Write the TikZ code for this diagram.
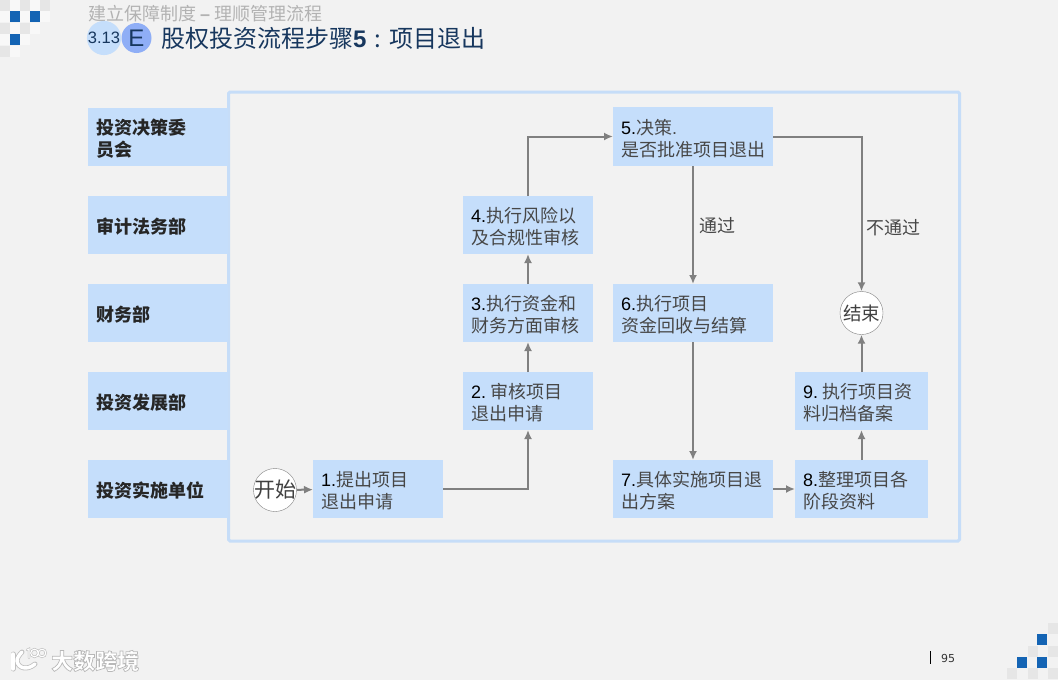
\documentclass[tikz,border=0pt]{standalone}
\usepackage{fontspec}
\setmainfont{Noto Sans CJK SC}
\newfontfamily\lat{Liberation Sans}
\newfontfamily\pagefont{DejaVu Sans}
\definecolor{pagebg}{HTML}{F2F2F2}
\definecolor{boxblue}{HTML}{C5DEFB}
\definecolor{framblue}{HTML}{C6DDF8}
\definecolor{flowgray}{HTML}{808080}
\definecolor{navy}{HTML}{17375E}
\definecolor{letterblue}{HTML}{8FAEF6}
\definecolor{squareblue}{HTML}{1464B4}
\definecolor{squaregray}{HTML}{E6E6E6}
\definecolor{squarepale}{HTML}{F8F8F8}
\usetikzlibrary{arrows.meta, positioning}

\begin{document}
\begin{tikzpicture}[
    x=1pt, y=-1pt,
    % Styles
    dept node/.style={rectangle, fill=boxblue, text=black!85, align=left, anchor=north west, font=\fontsize{18}{22}\selectfont\bfseries, minimum height=58pt, inner ysep=0pt, inner xsep=8pt, text width=124pt, outer sep=0pt, execute at begin node={\rule{0pt}{19pt}}},
    step node/.style={rectangle, fill=boxblue, text=black!72, align=left, anchor=north west, font=\fontsize{18}{22}\selectfont, minimum height=58pt, inner ysep=0pt, inner xsep=8pt, outer sep=0pt, execute at begin node={\rule{0pt}{19pt}}},
    term node/.style={circle, draw=flowgray, fill=white, inner sep=0pt, minimum size=43pt, text=black!75},
    flow arrow/.style={-{Latex[length=9pt,width=8pt]}, draw=flowgray, line width=2pt},
    flow label/.style={text=black!72, font=\fontsize{18}{20}\selectfont, inner sep=1pt, yshift=-1pt},
    blue square/.style={fill=squareblue},
    gray square/.style={fill=squaregray},
    pale square/.style={fill=squarepale},
    logo line/.style={line cap=round, draw=white}
]
\useasboundingbox (0,0) rectangle (1058,680);
\fill[pagebg] (0,0) rectangle (1058,680);

% Corner squares
\foreach \x/\y in {10/0,30/0,0/11,20/11,40/11,10/23,30/23,0/34,20/34,10/46}
    \fill[pale square] (\x,\y) rectangle ++(10,11);
\foreach \x/\y in {0/0,20/0,40/0,0/23,20/23,0/46}
    \fill[gray square] (\x,\y) rectangle ++(10,11);
\foreach \x/\y in {10/11,30/11,10/34}
    \fill[blue square] (\x,\y) rectangle ++(10,11);
\foreach \x/\y in {1048/623,1048/646,1028/646,1007/668,1028/668,1048/668}
    \fill[gray square] (\x,\y) rectangle ++(10,11);
\foreach \x/\y in {1037/634,1017/657,1037/657}
    \fill[blue square] (\x,\y) rectangle ++(10,11);

% Title
\node[anchor=west, text=black!30, font=\fontsize{18}{18}\selectfont, inner sep=0pt] (topic) at (88,14) {建立保障制度 {\lat\textbf{–}} 理顺管理流程};
\node[circle, fill=boxblue, inner sep=0pt, minimum size=31pt, text=navy, font=\lat\fontsize{16.5}{16.5}\selectfont] (secno) at (104,38) {3.13};
\node[circle, fill=letterblue, inner sep=0pt, minimum size=30pt, text=navy, font=\lat\fontsize{24}{24}\selectfont] (secletter) at (136.5,38) {E};
\node[anchor=west, text=navy, font=\fontsize{24}{24}\selectfont, inner sep=0pt] (title) at (161,38) {股权投资流程步骤{\lat\bfseries 5}\makebox[23pt]{:}项目退出};

% Frame
\node[rectangle, draw=framblue, line width=3pt, rounded corners=1.5pt, anchor=north west, minimum width=731pt, minimum height=449pt, inner sep=0pt, outer sep=0pt] (frame) at (228.5,92) {};

% Departments
\node[dept node] (committee) at (88,108) {投资决策委\\员会};
\node[dept node] (legal) at (88,196) {审计法务部};
\node[dept node] (finance) at (88,284) {财务部};
\node[dept node] (develop) at (88,372) {投资发展部};
\node[dept node] (unit) at (88,460) {投资实施单位};

% Steps
\node[term node, inner sep=-3pt, font=\fontsize{21}{21}\selectfont] (start) at (275,490) {开始};
\node[step node, text width=114pt] (s1) at (313,460) {{\lat\color{black} 1.}提出项目\\退出申请};
\node[step node, text width=114pt] (s2) at (463,372) {{\lat\color{black} 2.}\hspace{4pt}审核项目\\退出申请};
\node[step node, text width=114pt] (s3) at (463,284) {{\lat\color{black} 3.}执行资金和\\财务方面审核};
\node[step node, text width=114pt] (s4) at (463,196) {{\lat\color{black} 4.}执行风险以\\及合规性审核};
\node[step node, text width=144pt, minimum height=59pt] (s5) at (613,107) {{\lat\color{black} 5.}决策{\lat .}\\是否批准项目退出};
\node[step node, text width=144pt] (s6) at (613,284) {{\lat\color{black} 6.}执行项目\\资金回收与结算};
\node[step node, text width=144pt] (s7) at (613,460) {{\lat\color{black} 7.}具体实施项目退\\出方案};
\node[step node, text width=117pt] (s8) at (795,460) {{\lat\color{black} 8.}整理项目各\\阶段资料};
\node[step node, text width=117pt] (s9) at (795,372) {{\lat\color{black} 9.}\hspace{4pt}执行项目资\\料归档备案};
\node[term node, font=\fontsize{18.5}{18.5}\selectfont] (stop) at (861.5,313) {结束};

% Connections
\draw[flow arrow] (start) -- (s1);
\draw[flow arrow] (s1.east) -| (s2.south);
\draw[flow arrow] (s2) -- (s3);
\draw[flow arrow] (s3) -- (s4);
\draw[flow arrow] (s4.north) |- (s5.west);
\draw[flow arrow] (s5) -- node[flow label, right=4pt] {通过} (s6);
\draw[flow arrow] (s6) -- (s7);
\draw[flow arrow] (s7) -- (s8);
\draw[flow arrow] (s8) -- (s9);
\draw[flow arrow] (s9) -- (stop);
\draw[flow arrow] (s5.east) -| node[flow label, pos=0.79, right=3pt] {不通过} (stop.north);

% Footer
\node[anchor=west, text=black!80, font=\pagefont\fontsize{11}{11}\selectfont, inner sep=0pt] (page) at (941,658) {95};
\draw[black, line width=1pt] (930,651) -- (930,664);
\node[anchor=west, text=white, font=\fontsize{22}{22}\selectfont\bfseries, inner sep=0pt] (brand) at (51,661) {\special{pdf:code 2 Tr 0.72 G 0.7 w}大数跨境\special{pdf:code 0 Tr}};
% Logo
\foreach \w/\c in {5/black!25, 3.4/white} {
    \draw[logo line, draw=\c, line width=\w pt] (13,654) -- (13,669);
    \draw[logo line, draw=\c, line width=\w pt] (22,652) .. controls (19,655) and (17,658) .. (17,661) .. controls (18,668) and (27,671) .. (35,664);
}
\foreach \w/\c in {2.4/black!25, 1.1/white} {
    \draw[logo line, draw=\c, line width=\w pt] (27,650) -- (29,649) -- (29,658);
    \draw[draw=\c, line width=\w pt] (34.5,653) circle (3.8);
    \draw[draw=\c, line width=\w pt] (42,653) circle (3.8);
}
\end{tikzpicture}
\end{document}
